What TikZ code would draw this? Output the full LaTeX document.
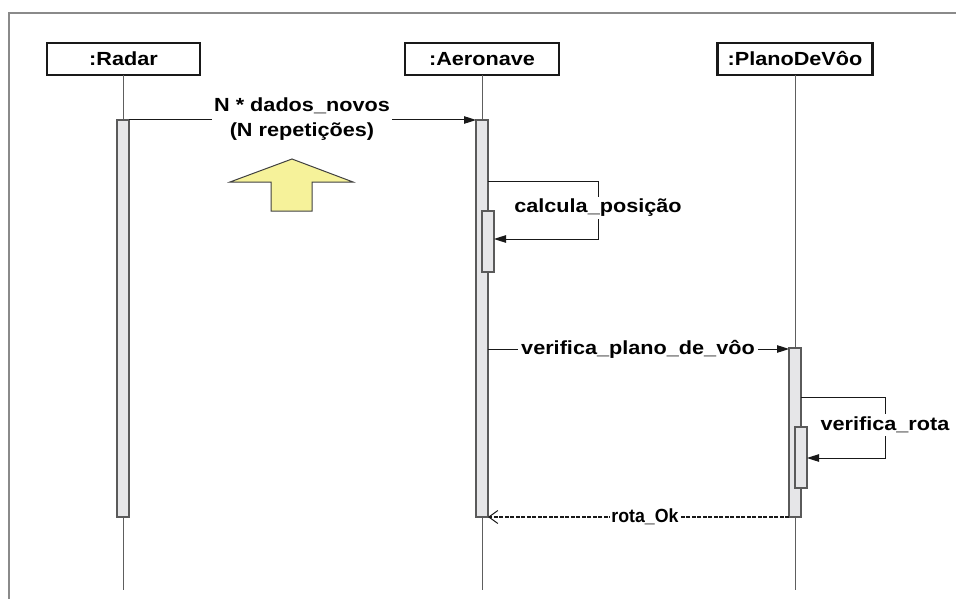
\documentclass[tikz,border=0pt]{standalone}
\usepackage{fontspec}
\usepackage{graphicx}
\setmainfont{Liberation Sans}[FakeStretch=1.14]
\usetikzlibrary{arrows.meta}
\definecolor{framegray}{HTML}{8A8A8A}
\definecolor{lifegray}{HTML}{5E5E5E}
\definecolor{barfill}{HTML}{E6E6E8}
\definecolor{bardraw}{HTML}{5A5A5A}
\definecolor{hint}{HTML}{F6F29A}
\begin{document}
\begin{tikzpicture}[x=1pt,y=-1pt,
  txt/.style={font=\fontsize{19}{25}\selectfont\bfseries, text=black},
  header/.style={txt, draw=black!90, line width=2.2pt, fill=white,
    minimum height=32pt, inner sep=0pt, outer sep=0pt},
  lifeline/.style={draw=lifegray, line width=1pt},
  activation/.style={draw=bardraw, fill=barfill, line width=1.1pt,
    minimum width=12pt, inner sep=0pt, outer sep=0pt},
  msg/.style={draw=black!90, line width=1pt, -{Triangle[length=12pt,width=7.5pt]}},
  reply/.style={draw=black!90, line width=2pt, dash pattern=on 4pt off 1.5pt,
    -{Straight Barb[length=9pt,width=13pt,line width=1pt]}},
  label/.style={txt, fill=white, inner sep=2.5pt, align=center},
]
\useasboundingbox (0,0) rectangle (956,599);

% frame
\draw[framegray, line width=2pt] (8.5,599) -- (8.5,13.5) -- (956,13.5);

% participants
\node[header, minimum width=153pt] (radar) at (123.5,59) {:Radar};
\node[header, minimum width=154pt] (aero)  at (482,59)   {:Aeronave};
\node[header, minimum width=155pt] (plano) at (795,59)   {:PlanoDeVôo};

% lifelines
\draw[lifeline] (radar.south) -- (radar.south |- 0,590);
\draw[lifeline] (aero.south)  -- (aero.south |- 0,590);
\draw[lifeline] (plano.south) -- (plano.south |- 0,590);

% activation bars
\node[activation, minimum height=397pt] (radarbar) at (123,318.5) {};
\node[activation, minimum height=397pt] (aerobar)  at (482,318.5) {};
\node[activation, minimum height=61pt]  (aeronest) at (488,241.5) {};
\node[activation, minimum height=169pt] (planobar) at (795,432.5) {};
\node[activation, minimum height=61pt]  (planonest) at (801,457.5) {};

% turning points of the self calls
\coordinate (c1) at (598,181);
\coordinate (c2) at (598,239);
\coordinate (r1) at (885,397);
\coordinate (r2) at (885,458);
\coordinate (v)  at (0,349);

% messages
\draw[msg] (radarbar.north east) -- (aerobar.north west);
\draw[msg] (aerobar.east |- c1) -- (c1) -- (c2) -- (aeronest.east |- c2);
\draw[msg] (aerobar.east |- v) -- (planobar.west |- v);
\draw[msg] (planobar.east |- r1) -- (r1) -- (r2) -- (planonest.east |- r2);
\draw[reply] (planobar.south west) -- (aerobar.south east);

% message labels
\node[label] (ldados) at (302,119) {N * dados\_novos\\(N repetições)};
\node[label] (lcalc)  at (598,208) {calcula\_posição};
\node[label, inner xsep=3pt] (lplano) at (638,349) {verifica\_plano\_de\_vôo};
\node[label] (lrota)  at (885,425) {verifica\_rota};
\node[label, inner xsep=1.5pt] (lok) at (645,517) {\scalebox{0.82}[1]{rota\_Ok}};

% hint arrow
\draw[draw=black!75, fill=hint, line width=1pt, line join=miter]
  (292,159) -- (353,182) -- (312,182) -- (312,211) -- (271,211)
  -- (271,182) -- (230,182) -- cycle;
\end{tikzpicture}
\end{document}
